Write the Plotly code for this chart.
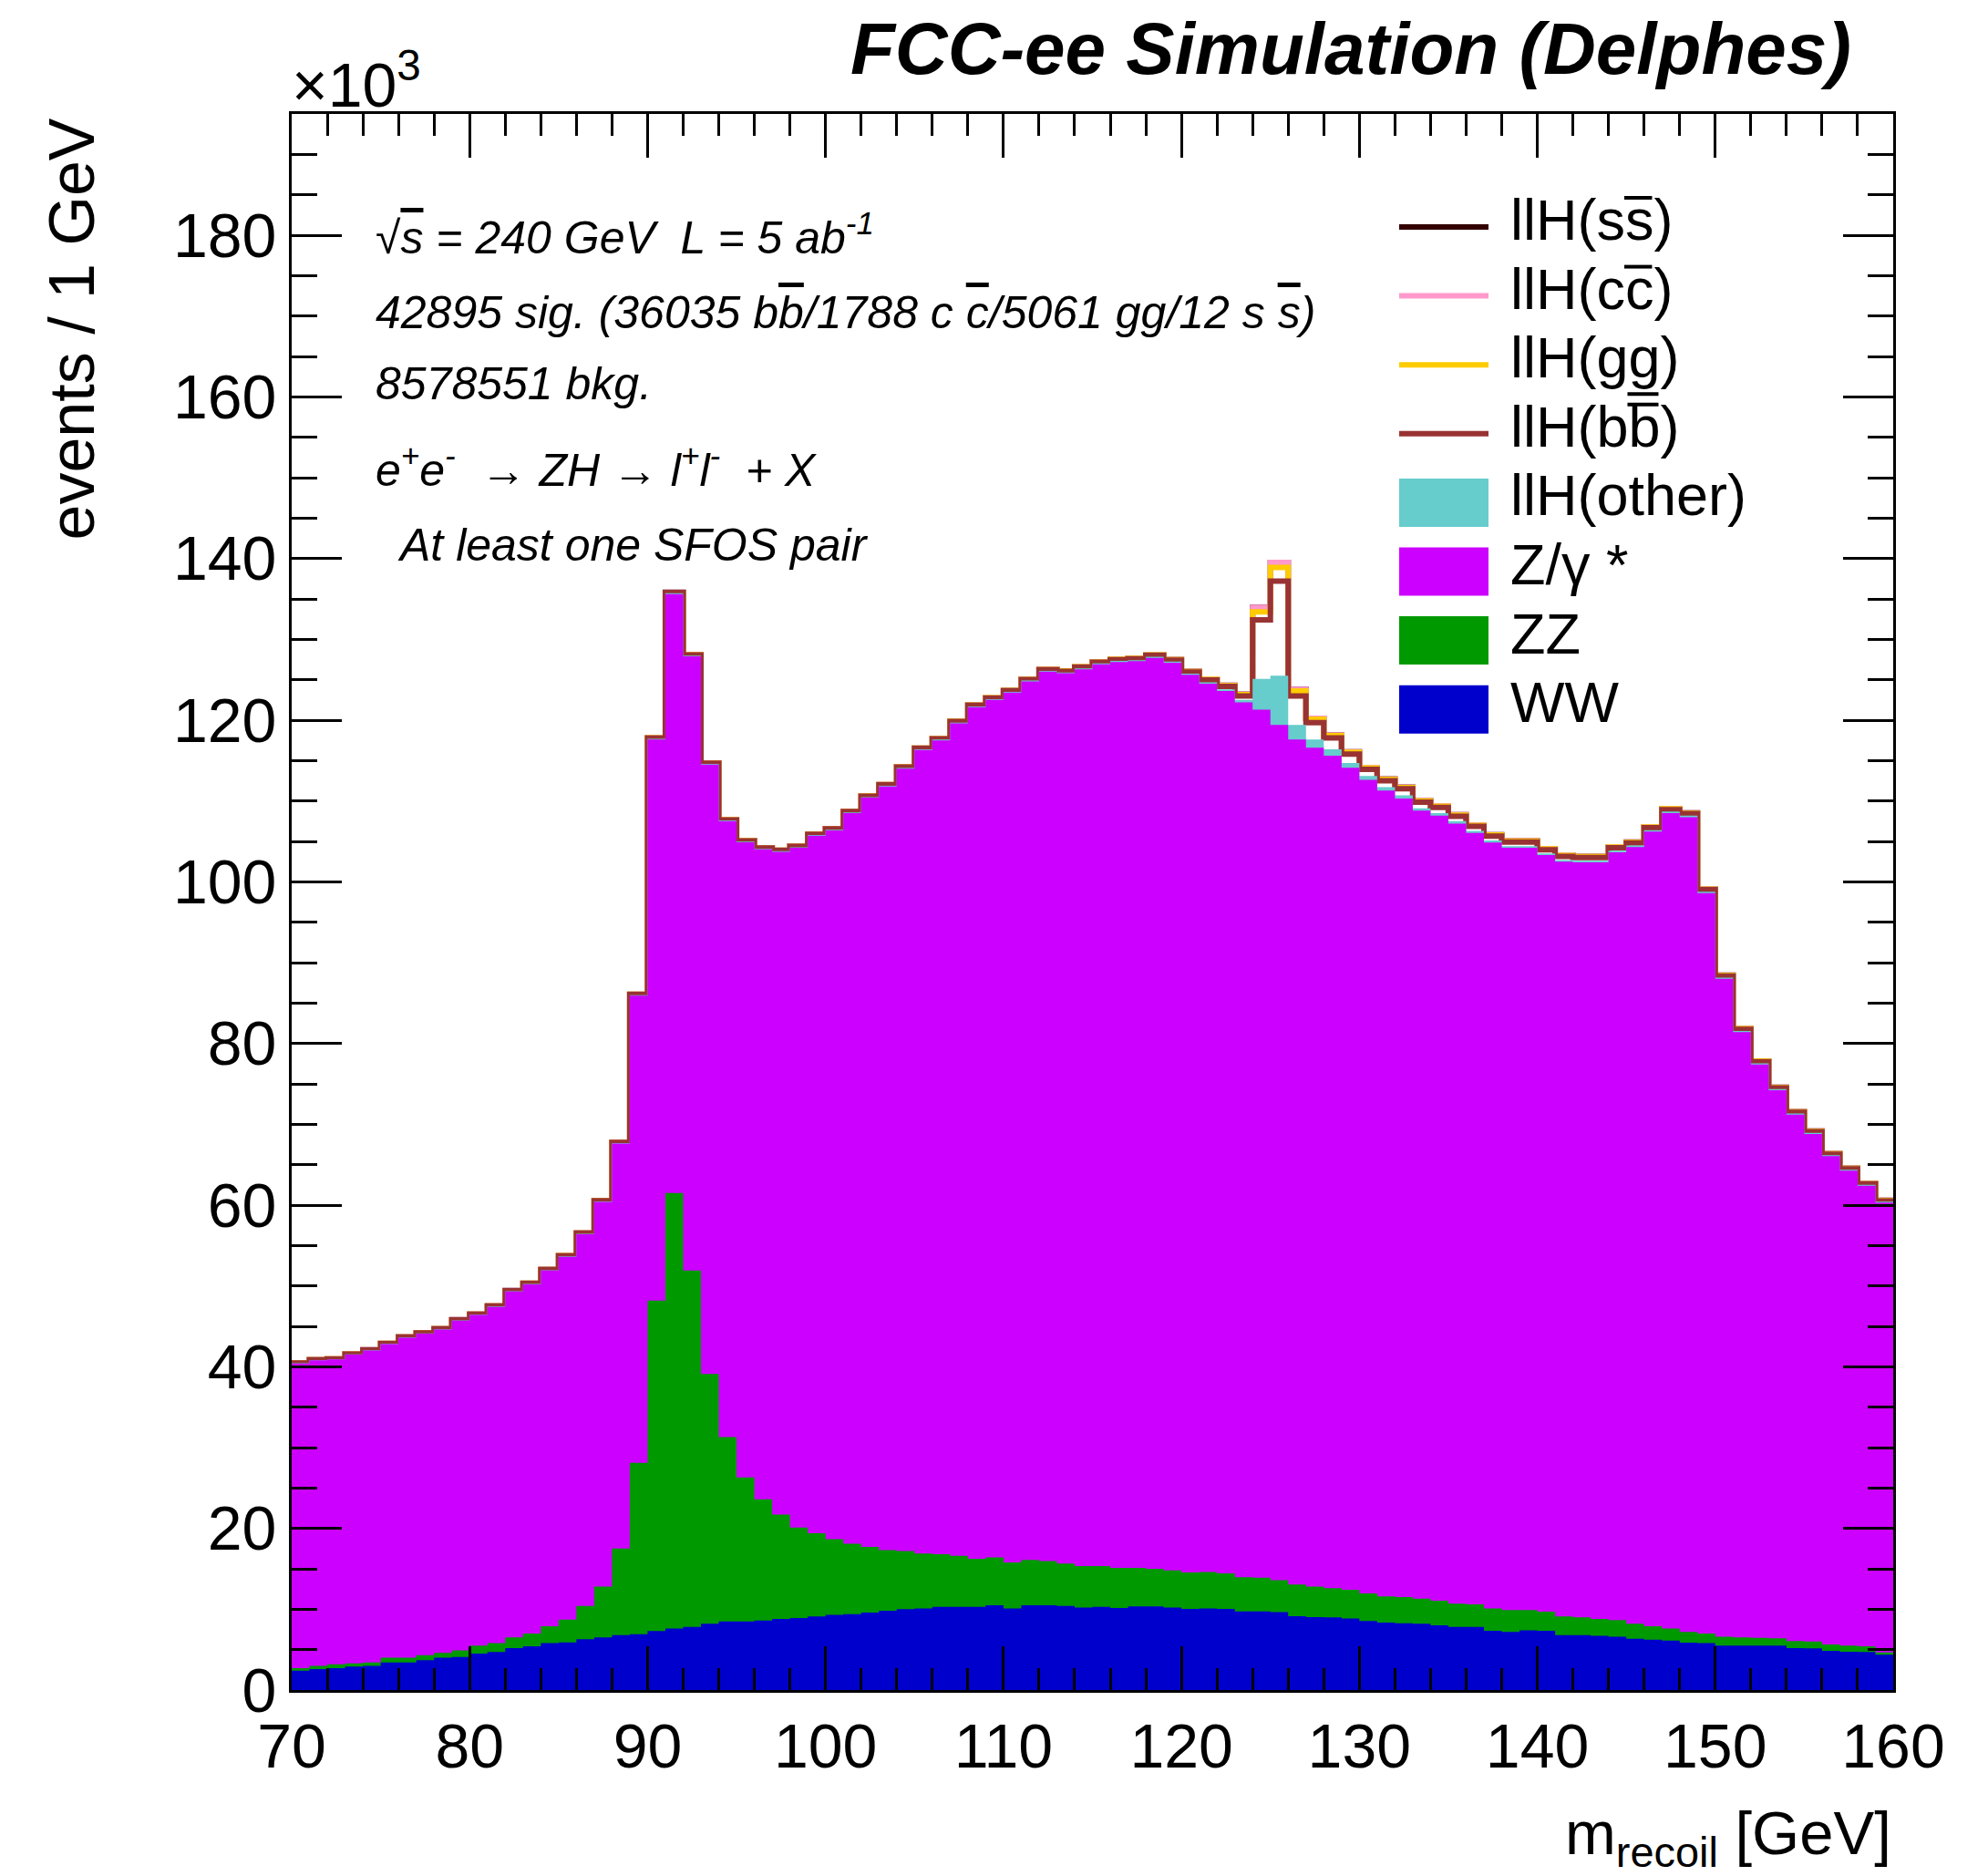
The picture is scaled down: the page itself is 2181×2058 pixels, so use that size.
import plotly.graph_objects as go
import numpy as np

# ---------------- data (events per 1 GeV bin, in units of 10^3) ----------------
bin_low = 70
bin_high = 160
edges = np.arange(bin_low, bin_high + 1, 1)

ww = [2.4, 2.6, 2.7, 2.9, 3.0, 3.4, 3.4, 3.7, 4.0, 4.1,
      4.5, 4.7, 5.2, 5.4, 5.8, 5.9, 6.3, 6.5, 6.8, 6.9,
      7.3, 7.6, 7.8, 8.2, 8.5, 8.5, 8.6, 8.8, 8.9, 9.1,
      9.3, 9.4, 9.6, 9.8, 10.0, 10.1, 10.3, 10.3, 10.3, 10.5,
      10.1, 10.5, 10.5, 10.4, 10.2, 10.3, 10.15, 10.35, 10.35, 10.2,
      10.05, 10.1, 10.05, 9.74, 9.74, 9.63, 9.14, 9.03, 9.0, 8.84,
      8.54, 8.35, 8.27, 8.2, 8.0, 7.8, 7.8, 7.33, 7.2, 7.4,
      7.33, 6.8, 6.8, 6.7, 6.6, 6.35, 6.24, 6.13, 5.86, 5.8,
      5.5, 5.5, 5.5, 5.5, 5.2, 5.15, 4.85, 4.74, 4.7, 4.36]

zz = [0.3, 0.4, 0.5, 0.4, 0.4, 0.6, 0.6, 0.6, 0.6, 0.8,
      1.0, 1.1, 1.3, 1.6, 2.1, 2.8, 4.1, 6.3, 10.7, 21.2,
      40.9, 53.9, 44.1, 30.9, 22.8, 17.8, 15.0, 12.9, 11.2, 10.3,
      9.36, 8.7, 8.1, 7.5, 7.2, 6.8, 6.5, 6.3, 5.95, 5.9,
      5.7, 5.6, 5.45, 5.25, 5.15, 5.05, 4.95, 4.75, 4.65, 4.6,
      4.51, 4.5, 4.4, 4.22, 4.16, 3.97, 3.91, 3.77, 3.6, 3.56,
      3.42, 3.25, 3.23, 3.1, 3.05, 2.9, 2.8, 2.77, 2.7, 2.5,
      2.37, 2.3, 2.2, 2.1, 2.05, 1.85, 1.66, 1.47, 1.34, 1.2,
      1.1, 1.0, 0.97, 0.9, 0.85, 0.85, 0.79, 0.76, 0.7, 0.3]

zgamma = [37.7, 37.8, 37.7, 38.2, 38.6, 38.8, 39.6, 39.8, 40.0, 40.8,
          40.9, 41.6, 42.8, 43.2, 44.0, 44.9, 46.0, 47.6, 50.1, 57.8,
          69.4, 74.1, 76.0, 75.4, 76.2, 78.6, 80.4, 82.0, 84.1, 86.3,
          87.7, 90.4, 92.7, 94.5, 96.8, 99.4, 100.7, 103.0, 105.35, 106.1,
          107.6, 108.7, 110.05, 110.15, 110.95, 111.55, 112.1, 112.2, 112.7, 112.3,
          111.04, 109.9, 109.15, 108.24, 107.4, 105.8, 104.55, 103.8, 103.0, 101.7,
          100.64, 99.7, 98.8, 97.5, 97.15, 96.5, 95.45, 94.75, 94.3, 94.3,
          93.6, 93.4, 93.4, 93.6, 95.0, 96.1, 98.3, 100.9, 100.8, 91.6,
          81.4, 74.9, 70.93, 67.8, 65.15, 62.8, 60.41, 58.75, 57.0, 55.64]

llh_other = [0.02, 0.02, 0.02, 0.03, 0.03, 0.03, 0.03, 0.04, 0.04, 0.04,
             0.04, 0.05, 0.05, 0.05, 0.05, 0.06, 0.06, 0.06, 0.07, 0.08,
             0.09, 0.10, 0.09, 0.08, 0.08, 0.08, 0.08, 0.08, 0.08, 0.08,
             0.08, 0.08, 0.08, 0.09, 0.09, 0.09, 0.09, 0.10, 0.10, 0.10,
             0.10, 0.10, 0.10, 0.10, 0.11, 0.11, 0.12, 0.12, 0.13, 0.14,
             0.15, 0.18, 0.22, 0.30, 3.8, 6.1, 1.8, 1.0, 0.8, 0.6,
             0.5, 0.4, 0.4, 0.3, 0.3, 0.3, 0.25, 0.25, 0.22, 0.22,
             0.2, 0.2, 0.2, 0.2, 0.2, 0.2, 0.18, 0.18, 0.18, 0.16,
             0.15, 0.15, 0.14, 0.14, 0.13, 0.13, 0.12, 0.12, 0.11, 0.11]

llh_bb = [0.03, 0.03, 0.03, 0.03, 0.04, 0.04, 0.04, 0.04, 0.04, 0.05,
          0.05, 0.05, 0.05, 0.06, 0.06, 0.06, 0.06, 0.07, 0.07, 0.08,
          0.08, 0.08, 0.08, 0.08, 0.08, 0.09, 0.09, 0.09, 0.09, 0.10,
          0.10, 0.10, 0.10, 0.10, 0.11, 0.11, 0.11, 0.12, 0.12, 0.12,
          0.13, 0.13, 0.13, 0.14, 0.14, 0.15, 0.15, 0.16, 0.17, 0.18,
          0.20, 0.28, 0.35, 0.50, 7.3, 11.7, 3.6, 2.1, 1.4, 1.1,
          0.8, 0.8, 0.8, 0.75, 0.7, 0.6, 0.55, 0.55, 0.5, 0.5,
          0.45, 0.45, 0.4, 0.4, 0.35, 0.3, 0.3, 0.25, 0.25, 0.25,
          0.2, 0.2, 0.2, 0.15, 0.15, 0.15, 0.12, 0.12, 0.1, 0.1]

llh_gg = [0.01, 0.01, 0.01, 0.01, 0.01, 0.01, 0.01, 0.01, 0.01, 0.01,
          0.01, 0.01, 0.01, 0.01, 0.01, 0.02, 0.02, 0.02, 0.02, 0.02,
          0.02, 0.02, 0.02, 0.02, 0.02, 0.02, 0.02, 0.02, 0.02, 0.02,
          0.02, 0.02, 0.02, 0.02, 0.03, 0.03, 0.03, 0.03, 0.03, 0.03,
          0.03, 0.03, 0.04, 0.04, 0.04, 0.04, 0.05, 0.05, 0.05, 0.06,
          0.06, 0.08, 0.10, 0.15, 1.0, 1.7, 0.6, 0.4, 0.28, 0.22,
          0.18, 0.16, 0.15, 0.15, 0.14, 0.14, 0.13, 0.13, 0.12, 0.12,
          0.11, 0.11, 0.10, 0.10, 0.10, 0.09, 0.09, 0.09, 0.08, 0.08,
          0.08, 0.07, 0.07, 0.07, 0.06, 0.06, 0.06, 0.05, 0.05, 0.05]

llh_cc = [0.005, 0.005, 0.005, 0.005, 0.005, 0.005, 0.005, 0.005, 0.005, 0.005,
          0.005, 0.005, 0.005, 0.005, 0.006, 0.006, 0.006, 0.006, 0.007, 0.007,
          0.007, 0.007, 0.007, 0.007, 0.007, 0.008, 0.008, 0.008, 0.008, 0.008,
          0.008, 0.008, 0.009, 0.009, 0.009, 0.009, 0.010, 0.010, 0.010, 0.010,
          0.010, 0.011, 0.011, 0.012, 0.012, 0.013, 0.013, 0.014, 0.015, 0.017,
          0.02, 0.03, 0.04, 0.06, 0.55, 0.6, 0.2, 0.12, 0.09, 0.07,
          0.06, 0.055, 0.05, 0.05, 0.045, 0.045, 0.04, 0.04, 0.04, 0.035,
          0.035, 0.035, 0.03, 0.03, 0.03, 0.03, 0.028, 0.028, 0.026, 0.026,
          0.025, 0.024, 0.023, 0.022, 0.021, 0.02, 0.02, 0.02, 0.02, 0.02]

llh_ss = [0.0, 0.0, 0.0, 0.0, 0.0, 0.0, 0.0, 0.0, 0.0, 0.0,
          0.0, 0.0, 0.0, 0.0, 0.0, 0.0, 0.0, 0.0, 0.0, 0.0,
          0.0, 0.0, 0.0, 0.0, 0.0, 0.0, 0.0, 0.0, 0.0, 0.0,
          0.0, 0.0, 0.0, 0.0, 0.0, 0.0, 0.0, 0.0, 0.0, 0.0,
          0.0, 0.0, 0.0, 0.0, 0.0, 0.0, 0.0, 0.0, 0.0, 0.0,
          0.0, 0.0, 0.0, 0.0, 0.003, 0.005, 0.001, 0.0, 0.0, 0.0,
          0.0, 0.0, 0.0, 0.0, 0.0, 0.0, 0.0, 0.0, 0.0, 0.0,
          0.0, 0.0, 0.0, 0.0, 0.0, 0.0, 0.0, 0.0, 0.0, 0.0,
          0.0, 0.0, 0.0, 0.0, 0.0, 0.0, 0.0, 0.0, 0.0, 0.0]

# ---------------- styles ----------------
C_WW = "#0000CC"
C_ZZ = "#009900"
C_ZG = "#CC00FF"
C_OTHER = "#66CCCC"
C_BB = "#993333"
C_GG = "#FFCC00"
C_CC = "#FF99CC"
C_SS = "#330000"

W, H = 2181, 2058
L_PX, R_PX, T_PX, B_PX = 320, 2077, 125, 1854
YMAX = 195.0
FONT = "Liberation Sans"


def px2x(px):
    return (px - L_PX) / (R_PX - L_PX)


def py2y(py):
    return (B_PX - py) / (B_PX - T_PX)


# cumulative stack
c_ww = np.array(ww)
c_zz = c_ww + np.array(zz)
c_zg = c_zz + np.array(zgamma)
c_other = c_zg + np.array(llh_other)
c_bb = c_other + np.array(llh_bb)
c_gg = c_bb + np.array(llh_gg)
c_cc = c_gg + np.array(llh_cc)
c_ss = c_cc + np.array(llh_ss)


def step_y(vals):
    v = list(vals)
    return v + [v[-1]]


fig = go.Figure()

# outline histograms (drawn first, partly covered by fills as in ROOT stack)
for cum, col, name in [(c_ss, C_SS, "llH(ss)"), (c_cc, C_CC, "llH(cc)"),
                       (c_gg, C_GG, "llH(gg)"), (c_bb, C_BB, "llH(bb)")]:
    fig.add_trace(go.Scatter(x=edges, y=step_y(cum), mode="lines", name=name,
                             line=dict(color=col, width=6, shape="hv"),
                             showlegend=False, hoverinfo="skip"))

# filled histograms
for cum, col, name in [(c_other, C_OTHER, "llH(other)"), (c_zg, C_ZG, "Z/gamma*"),
                       (c_zz, C_ZZ, "ZZ"), (c_ww, C_WW, "WW")]:
    fig.add_trace(go.Scatter(x=edges, y=step_y(cum), mode="lines", name=name,
                             line=dict(color=col, width=0, shape="hv"),
                             fill="tozeroy", fillcolor=col,
                             showlegend=False, hoverinfo="skip"))

axis_common = dict(showline=True, linewidth=3, linecolor="black", mirror="allticks",
                   ticks="inside", tickwidth=3, tickcolor="black",
                   showgrid=False, zeroline=False,
                   tickfont=dict(family=FONT, size=68, color="black"))

fig.update_xaxes(range=[bin_low, bin_high], tick0=70, dtick=10, ticklen=48,
                 minor=dict(dtick=2, ticklen=24, tickwidth=3, tickcolor="black",
                            ticks="inside", showgrid=False),
                 **axis_common)
fig.update_yaxes(range=[0, YMAX], tick0=0, dtick=20, ticklen=55,
                 minor=dict(dtick=5, ticklen=28, tickwidth=3, tickcolor="black",
                            ticks="inside", showgrid=False),
                 **axis_common)

OV = "<span style='text-decoration:overline'>{}</span>"

annotations = []
shapes = []


def add_text(text, xpx, ypx, xanchor, yanchor, size, style="normal", weight="normal",
             family=FONT, angle=0):
    annotations.append(dict(text=text, x=px2x(xpx), y=py2y(ypx), xref="paper", yref="paper",
                            xanchor=xanchor, yanchor=yanchor, showarrow=False,
                            textangle=angle,
                            font=dict(family=family, size=size, color="black",
                                      style=style, weight=weight)))


# title
add_text("FCC-ee Simulation (Delphes)", 2033, 100, "right", "bottom", 80,
         style="italic", weight="bold")
# exponent
add_text("×10<sup>3</sup>", 318, 133, "left", "bottom", 68)
# axis titles
add_text("events / 1 GeV", 120, 128, "right", "top", 70, angle=-90)
add_text("m<sub>recoil</sub> [GeV]", 2077, 1971, "right", "top", 67)

# info text
INFO_SIZE = 50
info_lines = [
    ("√" + OV.format("s") + " = 240 GeV \u00a0L = 5 ab<sup>-1</sup>", 410, 291),
    ("42895 sig. (36035 b" + OV.format("b") + "/1788 c " + OV.format("c")
     + "/5061 gg/12 s " + OV.format("s") + ")", 410, 373),
    ("8578551 bkg.", 410, 451),
    ("e<sup>+</sup>e<sup>-</sup> \u00a0→ ZH → l<sup>+</sup>l<sup>-</sup> \u00a0+ X", 410, 546),
    ("At least one SFOS pair", 434, 628),
]
for txt, xp, yp in info_lines:
    add_text(txt, xp, yp, "left", "bottom", INFO_SIZE, style="italic")

# legend (manual, ROOT style): label, symbol kind, colour, bar mark on 2nd quark
legend_rows = [
    ("llH(ss)", "line", C_SS, "over"),
    ("llH(cc)", "line", C_CC, "over"),
    ("llH(gg)", "line", C_GG, "under"),
    ("llH(bb)", "line", C_BB, "over"),
    ("llH(other)", "box", C_OTHER, None),
    ("Z/γ *", "box", C_ZG, None),
    ("ZZ", "box", C_ZZ, None),
    ("WW", "box", C_WW, None),
]
# Arial/Liberation advance widths (em) used to place the bar over the second quark
ADV = {"l": 0.222, "H": 0.722, "(": 0.333, "s": 0.5, "c": 0.5, "g": 0.556, "b": 0.556}
LEG_SIZE = 63
LEG_Y0, LEG_DY = 249, 75.6
SYM_X0, SYM_X1, TXT_X = 1535, 1633, 1655
for i, (label, kind, col, bar) in enumerate(legend_rows):
    yc = LEG_Y0 + i * LEG_DY
    if kind == "line":
        shapes.append(dict(type="line", xref="paper", yref="paper",
                           x0=px2x(SYM_X0), x1=px2x(SYM_X1), y0=py2y(yc), y1=py2y(yc),
                           line=dict(color=col, width=6)))
    else:
        shapes.append(dict(type="rect", xref="paper", yref="paper",
                           x0=px2x(SYM_X0), x1=px2x(SYM_X1),
                           y0=py2y(yc + 26.5), y1=py2y(yc - 26.5),
                           fillcolor=col, line=dict(width=0)))
    add_text(label, TXT_X, yc - 8, "left", "middle", LEG_SIZE)
    if bar:
        q = label[4]
        bx0 = TXT_X + sum(ADV[ch] for ch in label[:5]) * LEG_SIZE
        bx1 = bx0 + ADV[q] * LEG_SIZE
        by = yc - 32 if bar == "over" else yc + 32
        shapes.append(dict(type="line", xref="paper", yref="paper",
                           x0=px2x(bx0 + 1), x1=px2x(bx1), y0=py2y(by), y1=py2y(by),
                           line=dict(color="black", width=4)))

fig.update_layout(width=W, height=H, autosize=False,
                  margin=dict(l=L_PX, r=W - R_PX, t=T_PX, b=H - B_PX, pad=0),
                  paper_bgcolor="white", plot_bgcolor="white",
                  showlegend=False, annotations=annotations, shapes=shapes)

fig.write_html("out.html", config={"displayModeBar": False})
